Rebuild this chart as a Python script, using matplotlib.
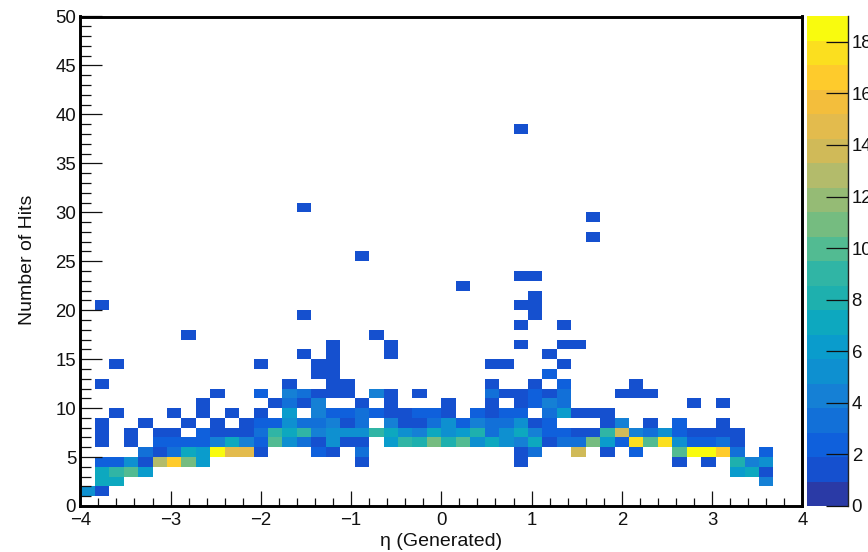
import numpy as np
import matplotlib
matplotlib.use('Agg')
import matplotlib.pyplot as plt
from matplotlib.colors import BoundaryNorm, ListedColormap
from matplotlib.lines import Line2D
from matplotlib.ticker import MultipleLocator

plt.rcParams['font.family'] = ['Liberation Sans', 'DejaVu Sans']

W, H = 868, 552

# bin edges of the 2D histogram
eta_edges = np.linspace(-4, 4, 51)
hit_edges = np.arange(0, 51)

# counts per row of hits: {eta bin number: entries}
hits_1 = {0: 5, 1: 1}
hits_2 = {1: 7, 2: 7, 47: 4}
hits_3 = {1: 7, 2: 9, 3: 10, 4: 6, 45: 6, 46: 7, 47: 1}
hits_4 = {1: 2, 2: 2, 3: 5, 4: 1, 5: 13, 6: 17, 7: 11, 8: 6, 19: 1, 30: 1, 41: 1, 43: 1, 45: 8, 46: 4, 47: 5}
hits_5 = {4: 3, 5: 1, 6: 3, 7: 7, 8: 6, 9: 19, 10: 15, 11: 15, 12: 1, 16: 2, 17: 1, 19: 3, 30: 1, 31: 3,
          34: 14, 36: 1, 38: 2, 41: 10, 42: 19, 43: 19, 44: 17, 45: 3, 47: 2}
hits_6 = {1: 1, 3: 1, 5: 2, 6: 2, 7: 2, 8: 2, 9: 4, 10: 7, 11: 4, 12: 2, 13: 10, 14: 5, 15: 3, 16: 1, 17: 5, 18: 1,
          19: 1, 21: 6, 22: 9, 23: 8, 24: 11, 25: 8, 26: 10, 27: 5, 28: 7, 29: 5, 30: 4, 31: 7, 32: 1, 33: 3, 34: 3,
          35: 11, 36: 6, 37: 2, 38: 18, 39: 10, 40: 18, 41: 5, 42: 2, 43: 2, 44: 3, 45: 1}
hits_7 = {1: 1, 3: 1, 5: 1, 6: 1, 8: 2, 9: 1, 10: 1, 11: 1, 12: 3, 13: 9, 14: 7, 15: 9, 16: 4, 17: 5, 18: 5, 19: 5,
          20: 9, 21: 7, 22: 5, 23: 4, 24: 7, 25: 5, 26: 6, 27: 8, 28: 3, 29: 5, 30: 7, 31: 4, 32: 2, 33: 2, 34: 1,
          35: 1, 36: 9, 37: 14, 38: 4, 39: 3, 40: 5, 41: 2, 42: 1, 43: 1, 44: 1, 45: 1}
hits_8 = {1: 1, 4: 1, 7: 1, 9: 1, 11: 1, 12: 2, 13: 2, 14: 5, 15: 3, 16: 3, 17: 4, 18: 1, 19: 3, 21: 4, 22: 1, 23: 1,
          24: 3, 25: 5, 26: 2, 27: 4, 28: 3, 29: 3, 30: 5, 31: 1, 32: 2, 36: 1, 37: 4, 39: 1, 41: 2, 44: 1}
hits_9 = {2: 1, 6: 1, 8: 1, 10: 1, 12: 1, 14: 6, 16: 4, 17: 2, 18: 2, 19: 3, 20: 2, 21: 1, 22: 1, 23: 2, 24: 2, 25: 1,
          27: 2, 28: 1, 29: 2, 30: 2, 32: 3, 33: 6, 34: 1, 35: 1, 36: 1}
hits_10 = {8: 1, 13: 1, 14: 3, 15: 1, 16: 4, 19: 1, 21: 1, 25: 1, 28: 1, 30: 1, 31: 2, 32: 4, 33: 3, 42: 1, 44: 1}
hits_11 = {9: 1, 12: 2, 14: 4, 15: 3, 16: 1, 17: 1, 18: 1, 20: 4, 21: 1, 23: 1, 28: 3, 29: 1, 30: 1, 31: 2, 32: 1,
           33: 3, 37: 1, 38: 1, 39: 1}
hits_12 = {1: 1, 14: 1, 17: 1, 18: 1, 28: 1, 31: 1, 33: 2, 38: 1}
hits_13 = {16: 1, 17: 1, 32: 2}
hits_14 = {2: 1, 12: 1, 16: 1, 17: 1, 28: 1, 29: 1, 33: 1}
hits_15 = {15: 1, 17: 1, 21: 1, 32: 1}
hits_16 = {17: 1, 21: 1, 30: 1, 33: 1, 34: 1}
hits_17 = {7: 1, 20: 1}
hits_18 = {30: 1, 33: 1}
hits_19 = {15: 1, 31: 1}
hits_20 = {1: 1, 30: 1, 31: 1}
hits_21 = {31: 1}
hits_22 = {26: 1}
hits_23 = {30: 1, 31: 1}
hits_25 = {19: 1}
hits_27 = {35: 1}
hits_29 = {35: 1}
hits_30 = {15: 1}
hits_38 = {30: 1}

rows = {1: hits_1, 2: hits_2, 3: hits_3, 4: hits_4, 5: hits_5, 6: hits_6, 7: hits_7, 8: hits_8, 9: hits_9,
        10: hits_10, 11: hits_11, 12: hits_12, 13: hits_13, 14: hits_14, 15: hits_15, 16: hits_16, 17: hits_17,
        18: hits_18, 19: hits_19, 20: hits_20, 21: hits_21, 22: hits_22, 23: hits_23, 25: hits_25, 27: hits_27,
        29: hits_29, 30: hits_30, 38: hits_38}

counts = np.zeros((50, 50))
for row, cells in rows.items():
    for col, n in cells.items():
        counts[row, col] = n
counts = np.ma.masked_equal(counts, 0)

# palette bands as they appear in the colour bar
band_colors = ['#2a3aa6', '#1550cf', '#0f60dc', '#1270d8', '#1580d5', '#0e90d0', '#0a9ccc', '#0da8bf', '#1eb0ae',
               '#30b5a5', '#52bb92', '#75bc80', '#95bb75', '#b3bb6b', '#d0ba58', '#e3bb4d', '#f3be3c', '#fecb2c',
               '#fbdf1f', '#f9fb0e']
cmap = ListedColormap(band_colors)
norm = BoundaryNorm(np.linspace(0, 19, 21), cmap.N)

fig = plt.figure(figsize=(W / 100, H / 100), dpi=100, facecolor='white')
ax = fig.add_axes([80.3 / W, 1 - 506 / H, (802.3 - 80.3) / W, (506 - 16.5) / H])
mesh = ax.pcolormesh(eta_edges, hit_edges, counts, cmap=cmap, norm=norm)

ax.set_xlim(-4, 4)
ax.set_ylim(0, 50)
ax.xaxis.set_major_locator(MultipleLocator(1))
ax.xaxis.set_minor_locator(MultipleLocator(0.2))
ax.yaxis.set_major_locator(MultipleLocator(5))
ax.yaxis.set_minor_locator(MultipleLocator(1))
ax.tick_params(axis='x', which='major', direction='in', length=11, width=0.9, labelsize=13.4, pad=4.5, colors='#111111')
ax.tick_params(axis='x', which='minor', direction='in', length=5.5, width=0.9, colors='#111111')
ax.tick_params(axis='y', which='major', direction='in', length=16, width=0.9, labelsize=13.4, pad=3, colors='#111111')
ax.tick_params(axis='y', which='minor', direction='in', length=8, width=0.9, colors='#111111')
for spine in ax.spines.values():
    spine.set_linewidth(2.1)
    spine.set_color('black')

fig.text(441 / W, 1 - 541 / H, 'η (Generated)', fontsize=14, ha='center', va='center', color='#111111')
fig.text(28 / W, 1 - 260 / H, 'Number of Hits', fontsize=14, ha='center', va='center', rotation=90, color='#111111')

cax = fig.add_axes([806.7 / W, 1 - 506 / H, (847.5 - 806.7) / W, (506 - 16) / H])
cbar = fig.colorbar(mesh, cax=cax, spacing='proportional', ticks=np.arange(0, 19, 2), drawedges=False)
cbar.minorticks_off()
cbar.outline.set_visible(False)
cax.tick_params(axis='y', which='major', direction='in', length=15.5, width=0.9, labelsize=13.4, pad=3, color='#111111', labelcolor='#111111')
fig.add_artist(Line2D([847.5 / W, 847.5 / W], [1 - 506 / H, 1 - 16 / H], color='#222222', linewidth=1.0))

fig.savefig('out.png', dpi=100)
